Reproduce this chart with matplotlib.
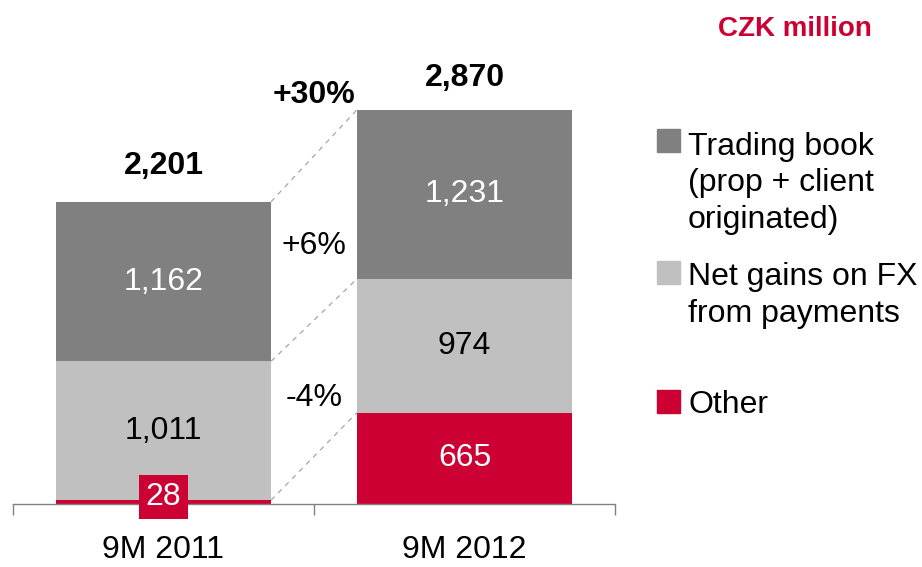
import matplotlib.pyplot as plt

plt.rcParams['font.family'] = ['Liberation Sans', 'DejaVu Sans']

# Data
periods = ['9M 2011', '9M 2012']
other = [28, 665]
fx_gains = [1011, 974]
trading = [1162, 1231]
totals = [2201, 2870]
seg_changes = ['-4%', '+6%']
total_change = '+30%'
legend_labels = ['Trading book\n(prop + client\noriginated)', 'Net gains on FX\nfrom payments', 'Other']

c_trading = '#808080'
c_fx = '#C0C0C0'
c_other = '#CC0033'

fig = plt.figure(figsize=(9.22, 5.67), dpi=100)
ax = fig.add_axes([13 / 922, 63 / 567, 602 / 922, 412 / 567])

x = [0, 1]
w = 0.715
bottom_fx = other
bottom_tr = [o + f for o, f in zip(other, fx_gains)]
ax.bar(x, other, w, color=c_other)
ax.bar(x, fx_gains, w, bottom=bottom_fx, color=c_fx)
ax.bar(x, trading, w, bottom=bottom_tr, color=c_trading)

ax.set_xlim(-0.5, 1.5)
ax.set_ylim(0, 3000)

# segment value labels
fs = 23
total_offsets = [26, 23]
for i in x:
    ax.text(i, bottom_fx[i] + fx_gains[i] / 2, f"{fx_gains[i]:,}", ha='center', va='center',
            fontsize=fs, color='black')
    ax.text(i, bottom_tr[i] + trading[i] / 2, f"{trading[i]:,}", ha='center', va='center',
            fontsize=fs, color='white')
    ax.annotate(f"{totals[i]:,}", (i, totals[i]), xytext=(0, total_offsets[i]),
                textcoords='offset points', ha='center', va='center', fontsize=fs,
                fontweight='bold')

# "Other" labels
ax.text(0, 50, f"{other[0]}", ha='center', va='center', fontsize=fs, color='white',
        bbox=dict(boxstyle='square,pad=0.22', fc=c_other, ec='none'))
ax.text(1, other[1] / 2, f"{other[1]}", ha='center', va='center', fontsize=fs, color='white')

# dashed connectors between segment tops
x0 = 0 + w / 2
x1 = 1 - w / 2
for tops in ([other[0], other[1]], [bottom_tr[0], bottom_tr[1]], [totals[0], totals[1]]):
    ax.plot([x0, x1], tops, ls=(0, (4, 4)), color='#A6A6A6', lw=0.9)

xm = (x0 + x1) / 2
ax.text(xm, 770, seg_changes[0], ha='center', va='center', fontsize=fs)
ax.text(xm, 1880, seg_changes[1], ha='center', va='center', fontsize=fs)
ax.text(xm, 2980, total_change, ha='center', va='center', fontsize=fs, fontweight='bold')

# axes styling
for s in ['top', 'right', 'left']:
    ax.spines[s].set_visible(False)
ax.spines['bottom'].set_color('#808080')
ax.spines['bottom'].set_linewidth(1)
ax.set_yticks([])
ax.set_xticks([-0.5, 0.5, 1.5], minor=False)
ax.set_xticklabels([])
ax.tick_params(axis='x', direction='out', length=8, color='#808080', width=1)
ax.set_xticks(x, minor=True)
ax.set_xticklabels(periods, minor=True, fontsize=fs)
ax.tick_params(axis='x', which='minor', length=0, pad=22)

# legend
fig.text(795 / 922, 1 - 29 / 567, 'CZK million', ha='center', va='center', fontsize=20,
         fontweight='bold', color=c_other)
# square top, baseline of last text line (px from top)
legend_items = [(c_trading, 129, 228, legend_labels[0]), (c_fx, 261, 322, legend_labels[1]),
                (c_other, 390, 413, legend_labels[2])]
for col, sq_top, base, lab in legend_items:
    fig.patches.append(plt.Rectangle((657 / 922, 1 - (sq_top + 23) / 567), 23 / 922, 23 / 567,
                                     transform=fig.transFigure, color=col))
    fig.text(688 / 922, 1 - base / 567, lab, ha='left', va='baseline', fontsize=fs,
             linespacing=1.29, transform=fig.transFigure)

plt.savefig('out.png', dpi=100)
